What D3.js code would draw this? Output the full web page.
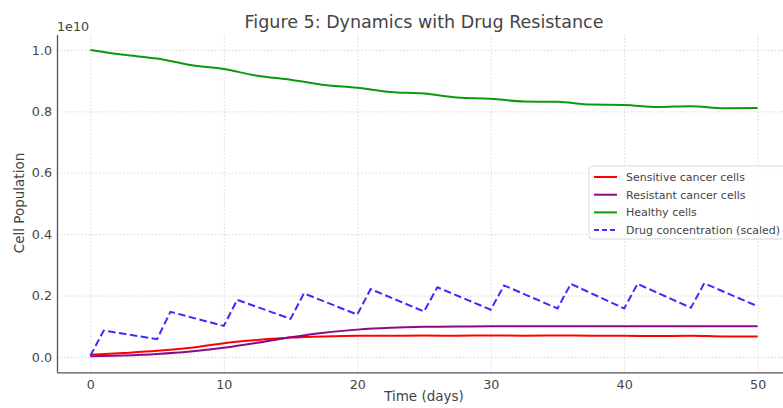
<!DOCTYPE html>
<html lang="en">

<head>
    <meta charset="UTF-8">
    <title>Figure 5: Dynamics with Drug Resistance</title>
    <script src="https://d3js.org/d3.v7.min.js"></script>
    <style>
        body {
            margin: 0;
            background: #fff;
        }

        text {
            font-family: 'DejaVu Sans', sans-serif;
            fill: #444;
        }

        .grid line {
            stroke: #d2d2d2;
            stroke-width: 0.9px;
            stroke-dasharray: 1.5, 2;
        }

        .spine {
            stroke: #555;
            stroke-width: 1.3px;
        }

        .series {
            fill: none;
            stroke-width: 2px;
        }
    </style>
</head>

<body>
    <div id="chart"></div>

    <script>
        // values in units of 1e10 cells
        let days = [0, 2.5, 5, 7.5, 10, 12.5, 15, 17.5, 20, 22.5, 25, 27.5, 30, 32.5, 35, 37.5, 40, 42.5, 45, 47.5, 50];
        let sensitive = [0.007, 0.013, 0.02, 0.03, 0.045, 0.055, 0.063, 0.067, 0.069, 0.069, 0.07, 0.069, 0.07, 0.069, 0.07, 0.069, 0.069, 0.068, 0.069, 0.067, 0.067];
        let resistant = [0.002, 0.005, 0.01, 0.018, 0.03, 0.046, 0.064, 0.079, 0.089, 0.095, 0.098, 0.099, 0.1, 0.1, 0.1, 0.1, 0.1, 0.1, 0.1, 0.1, 0.1];
        let healthy = [1.0, 0.984, 0.972, 0.951, 0.938, 0.916, 0.903, 0.886, 0.877, 0.863, 0.858, 0.845, 0.841, 0.832, 0.831, 0.822, 0.821, 0.814, 0.817, 0.81, 0.811];

        // drug doses every 5 days
        let drugDays = [0, 1, 5, 6, 10, 11, 15, 16, 20, 21, 25, 26, 30, 31, 35, 36, 40, 41, 45, 46, 50];
        let drugLevel = [0.004, 0.086, 0.058, 0.147, 0.101, 0.186, 0.124, 0.207, 0.138, 0.221, 0.148, 0.227, 0.154, 0.233, 0.158, 0.238, 0.158, 0.238, 0.16, 0.24, 0.165];

        let xTicks = [0, 10, 20, 30, 40, 50];
        let yTicks = [0, 0.2, 0.4, 0.6, 0.8, 1.0];

        let seriesNames = ["Sensitive cancer cells", "Resistant cancer cells", "Healthy cells", "Drug concentration (scaled)"];
        let seriesColors = ["#ff0000", "#8a0a8a", "#0a9a0a", "#3b2bff"];

        let width = 783;
        let height = 408;

        let svg = d3.select("#chart").append("svg")
            .attr("width", width)
            .attr("height", height);

        let x = d3.scaleLinear()
            .domain([-2.5, 52.5])
            .range([57, 791]);

        let y = d3.scaleLinear()
            .domain([-0.05, 1.05])
            .range([372.3, 34.6]);

        // grid
        svg.append("g")
            .attr("class", "grid")
            .attr("transform", "translate(0," + y.range()[0] + ")")
            .call(d3.axisBottom(x).tickValues(xTicks).tickSize(-(y.range()[0] - y.range()[1])).tickFormat(""))
            .call(g => g.select(".domain").remove());

        svg.append("g")
            .attr("class", "grid")
            .attr("transform", "translate(" + x.range()[0] + ",0)")
            .call(d3.axisLeft(y).tickValues(yTicks).tickSize(-(x.range()[1] - x.range()[0])).tickFormat(""))
            .call(g => g.select(".domain").remove());

        // axes, no tick marks
        let xAxis = svg.append("g")
            .attr("transform", "translate(0," + y.range()[0] + ")")
            .call(d3.axisBottom(x).tickValues(xTicks).tickSize(0).tickPadding(8).tickFormat(d3.format("d")));

        let yAxis = svg.append("g")
            .attr("transform", "translate(" + x.range()[0] + ",0)")
            .call(d3.axisLeft(y).tickValues(yTicks).tickSize(0).tickPadding(5).tickFormat(d3.format(".1f")));

        [xAxis, yAxis].forEach(a => {
            a.select(".domain").attr("class", "spine");
            a.selectAll("text").style("font-size", "12.7px").attr("fill", "#444");
        });

        let line = d3.line()
            .x(d => x(d[0]))
            .y(d => y(d[1]))
            .curve(d3.curveMonotoneX);

        let cellSeries = [sensitive, resistant, healthy];
        cellSeries.forEach((vals, i) => {
            svg.append("path")
                .attr("class", "series")
                .attr("d", line(days.map((t, j) => [t, vals[j]])))
                .attr("stroke", seriesColors[i]);
        });

        svg.append("path")
            .attr("class", "series")
            .attr("d", line.curve(d3.curveLinear)(drugDays.map((t, j) => [t, drugLevel[j]])))
            .attr("stroke", seriesColors[3])
            .attr("stroke-dasharray", "7.5,3.5");

        // labels
        svg.append("text")
            .attr("x", 424)
            .attr("y", 28)
            .attr("text-anchor", "middle")
            .style("font-size", "17.5px")
            .text("Figure 5: Dynamics with Drug Resistance");

        svg.append("text")
            .attr("x", 57)
            .attr("y", 31)
            .style("font-size", "12.7px")
            .text("1e10");

        svg.append("text")
            .attr("x", 424)
            .attr("y", 401)
            .attr("text-anchor", "middle")
            .style("font-size", "13.5px")
            .text("Time (days)");

        svg.append("text")
            .attr("transform", "translate(24,203) rotate(-90)")
            .attr("text-anchor", "middle")
            .style("font-size", "13.5px")
            .text("Cell Population");

        // legend
        let legend = svg.append("g")
            .attr("transform", "translate(589,166)");

        legend.append("rect")
            .attr("width", 210)
            .attr("height", 73)
            .attr("rx", 3)
            .attr("fill", "#fff")
            .attr("fill-opacity", 0.85)
            .attr("stroke", "#d8d8d8");

        let rows = legend.selectAll(".row")
            .data(seriesNames)
            .enter().append("g")
            .attr("transform", (d, i) => "translate(0," + (11 + i * 17.7) + ")");

        rows.append("line")
            .attr("x1", 5)
            .attr("x2", 28)
            .attr("stroke", (d, i) => seriesColors[i])
            .attr("stroke-width", 2)
            .attr("stroke-dasharray", (d, i) => i == 3 ? "5,3" : null);

        rows.append("text")
            .attr("x", 37)
            .attr("dy", "0.35em")
            .style("font-size", "11px")
            .text(d => d);
    </script>
</body>

</html>
